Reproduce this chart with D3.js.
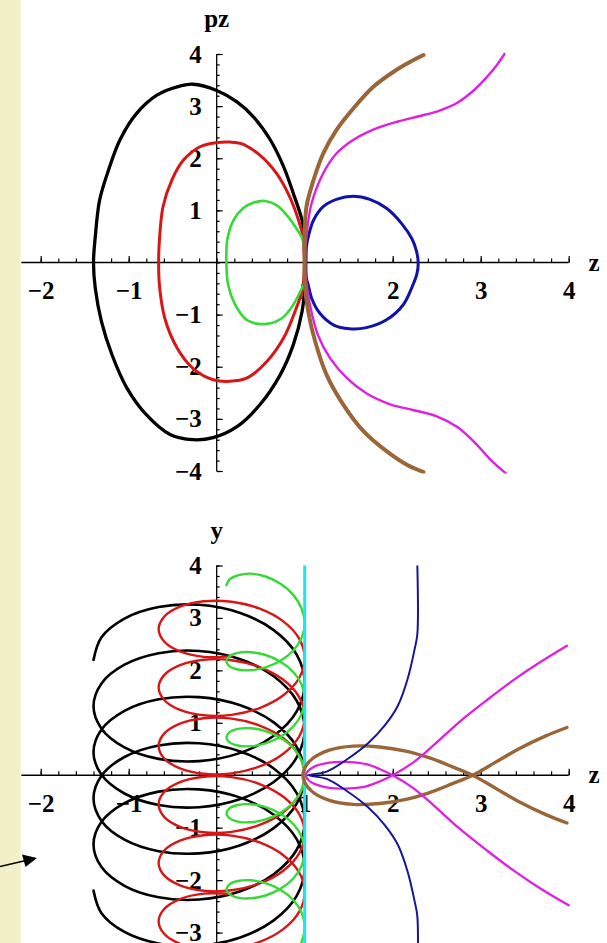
<!DOCTYPE html>
<html>
<head>
<meta charset="utf-8">
<script src="https://cdn.jsdelivr.net/npm/d3@7"></script>
<style>
  html, body { margin: 0; padding: 0; background: #ffffff; }
  svg { display: block; }
  .tick text { font-family: "Liberation Serif", "Times New Roman", serif; font-weight: bold; font-size: 25px; fill: #000; }
  .axis-title { font-family: "Liberation Serif", "Times New Roman", serif; font-weight: bold; font-size: 25px; fill: #000; }
</style>
</head>
<body>
<svg id="chart" width="607" height="943"></svg>
<script>
// ---------- tick values ----------
const zMajor = [-2, -1, 1, 2, 3, 4];
const pzMajor = [-4, -3, -2, -1, 1, 2, 3, 4];
const yMajor = [-3, -2, -1, 1, 2, 3, 4];
const zMinor = d3.range(-2, 4.001, 0.2).map(v => +v.toFixed(1));
const vMinor = d3.range(-4, 4.001, 0.2).map(v => +v.toFixed(1));

// ---------- phase plane (z, pz) ----------
const phaseBlack = [[-1.40,0],[-1.38,0.49],[-1.33,1.2],[-1.23,1.77],[-1.10,2.35],[-0.91,2.86],[-0.68,3.21],[-0.45,3.37],[-0.27,3.42],[0,3.30],[0.23,3.08],[0.42,2.79],[0.61,2.35],[0.76,1.84],[0.87,1.33],[0.97,0.81],[1.0,0.49],[1.0,-0.46],[0.97,-0.94],[0.87,-1.58],[0.72,-2.16],[0.49,-2.73],[0.23,-3.15],[-0.04,-3.36],[-0.27,-3.40],[-0.53,-3.30],[-0.80,-2.92],[-1.02,-2.41],[-1.19,-1.77],[-1.31,-1.13],[-1.38,-0.49]];
const phaseRed = [[-0.66,0],[-0.65,0.45],[-0.61,1.07],[-0.51,1.58],[-0.38,1.96],[-0.19,2.22],[0,2.30],[0.15,2.31],[0.28,2.28],[0.49,2.06],[0.68,1.71],[0.83,1.26],[0.93,0.81],[0.98,0.49],[0.98,-0.46],[0.89,-0.94],[0.76,-1.45],[0.57,-1.90],[0.34,-2.22],[0.15,-2.28],[-0.04,-2.25],[-0.27,-2.03],[-0.45,-1.64],[-0.59,-1.07],[-0.65,-0.45]];
const phaseGreen = [[0.11,0],[0.12,0.43],[0.19,0.81],[0.30,1.04],[0.42,1.15],[0.55,1.18],[0.68,1.10],[0.81,0.88],[0.93,0.59],[0.98,0.43],[1.0,-0.37],[0.97,-0.49],[0.87,-0.81],[0.74,-1.07],[0.55,-1.18],[0.34,-1.10],[0.21,-0.81],[0.13,-0.43]];
const phaseBlue = [[1.02,0.3],[1.04,0.49],[1.10,0.81],[1.21,1.07],[1.36,1.21],[1.55,1.27],[1.74,1.21],[1.93,1.04],[2.10,0.75],[2.22,0.45],[2.27,0.22],[2.29,0],[2.275,-0.22],[2.22,-0.47],[2.12,-0.81],[1.93,-1.10],[1.70,-1.25],[1.51,-1.27],[1.33,-1.20],[1.17,-0.97],[1.08,-0.69],[1.04,-0.43],[1.02,-0.3]];
const phaseMagenta = [[3.29,-4.05],[3.11,-3.78],[2.92,-3.43],[2.73,-3.15],[2.50,-2.95],[2.23,-2.83],[1.97,-2.72],[1.70,-2.51],[1.48,-2.22],[1.29,-1.84],[1.15,-1.39],[1.06,-0.81],[1.02,-0.4],[1.0,0],[1.02,0.5],[1.06,1.0],[1.10,1.26],[1.21,1.71],[1.36,2.09],[1.55,2.35],[1.78,2.55],[2.05,2.70],[2.31,2.81],[2.54,2.92],[2.73,3.06],[2.92,3.30],[3.07,3.56],[3.18,3.78],[3.27,4.0]];
const phaseBrown = [[2.35,-4.02],[2.16,-3.88],[1.93,-3.62],[1.67,-3.24],[1.44,-2.73],[1.25,-2.16],[1.12,-1.52],[1.04,-0.94],[1.0,-0.37],[1.0,0],[1.0,0.5],[1.02,1.07],[1.10,1.58],[1.21,2.09],[1.36,2.54],[1.55,2.95],[1.78,3.37],[2.01,3.66],[2.20,3.85],[2.35,3.98]];

// ---------- orbits (z, y) ----------
const orbitBlack = [[-1.4,-2.2],[-1.309,-2.631],[-1.048,-2.988],[-0.66,-3.208],[-0.2,-3.25],[0.26,-3.098],[0.648,-2.768],[0.909,-2.301],[1.0,-1.76],[0.909,-1.219],[0.648,-0.752],[0.26,-0.422],[-0.2,-0.27],[-0.66,-0.312],[-1.048,-0.532],[-1.309,-0.889],[-1.4,-1.32],[-1.309,-1.751],[-1.048,-2.108],[-0.66,-2.328],[-0.2,-2.37],[0.26,-2.218],[0.648,-1.888],[0.909,-1.421],[1.0,-0.88],[0.909,-0.339],[0.648,0.128],[0.26,0.458],[-0.2,0.61],[-0.66,0.568],[-1.048,0.348],[-1.309,-0.009],[-1.4,-0.44],[-1.309,-0.871],[-1.048,-1.228],[-0.66,-1.448],[-0.2,-1.49],[0.26,-1.338],[0.648,-1.008],[0.909,-0.541],[1.0,0],[0.909,0.541],[0.648,1.008],[0.26,1.338],[-0.2,1.49],[-0.66,1.448],[-1.048,1.228],[-1.309,0.871],[-1.4,0.44],[-1.309,0.009],[-1.048,-0.348],[-0.66,-0.568],[-0.2,-0.61],[0.26,-0.458],[0.648,-0.128],[0.909,0.339],[1.0,0.88],[0.909,1.421],[0.648,1.888],[0.26,2.218],[-0.2,2.37],[-0.66,2.328],[-1.048,2.108],[-1.309,1.751],[-1.4,1.32],[-1.309,0.889],[-1.048,0.532],[-0.66,0.312],[-0.2,0.27],[0.26,0.422],[0.648,0.752],[0.909,1.219],[1.0,1.76],[0.909,2.301],[0.648,2.768],[0.26,3.098],[-0.2,3.25],[-0.66,3.208],[-1.048,2.988],[-1.309,2.631],[-1.4,2.2]];
const orbitRed = [[0.17,-2.266],[-0.148,-2.258],[-0.417,-2.361],[-0.597,-2.551],[-0.66,-2.788],[-0.597,-3.024],[-0.417,-3.214],[-0.148,-3.317],[0.17,-3.309],[0.488,-3.178],[0.757,-2.935],[0.937,-2.606],[1.0,-2.23],[0.937,-1.854],[0.757,-1.525],[0.488,-1.282],[0.17,-1.151],[-0.148,-1.143],[-0.417,-1.246],[-0.597,-1.436],[-0.66,-1.673],[-0.597,-1.909],[-0.417,-2.099],[-0.148,-2.202],[0.17,-2.194],[0.488,-2.063],[0.757,-1.820],[0.937,-1.491],[1.0,-1.115],[0.937,-0.739],[0.757,-0.410],[0.488,-0.167],[0.17,-0.036],[-0.148,-0.028],[-0.417,-0.131],[-0.597,-0.321],[-0.66,-0.558],[-0.597,-0.794],[-0.417,-0.984],[-0.148,-1.087],[0.17,-1.079],[0.488,-0.948],[0.757,-0.705],[0.937,-0.376],[1.0,0],[0.937,0.376],[0.757,0.705],[0.488,0.948],[0.17,1.079],[-0.148,1.087],[-0.417,0.984],[-0.597,0.794],[-0.66,0.558],[-0.597,0.321],[-0.417,0.131],[-0.148,0.028],[0.17,0.036],[0.488,0.167],[0.757,0.410],[0.937,0.739],[1.0,1.115],[0.937,1.491],[0.757,1.820],[0.488,2.063],[0.17,2.194],[-0.148,2.202],[-0.417,2.099],[-0.597,1.909],[-0.66,1.673],[-0.597,1.436],[-0.417,1.246],[-0.148,1.143],[0.17,1.151],[0.488,1.282],[0.757,1.525],[0.937,1.854],[1.0,2.23],[0.937,2.606],[0.757,2.935],[0.488,3.178],[0.17,3.309],[-0.148,3.317],[-0.417,3.214],[-0.597,3.024],[-0.66,2.788],[-0.597,2.551],[-0.417,2.361],[-0.148,2.258],[0.17,2.266]];
const orbitGreen = [[0.11,-3.625],[0.144,-3.718],[0.240,-3.783],[0.385,-3.797],[0.555,-3.743],[0.725,-3.616],[0.870,-3.420],[0.966,-3.175],[1.0,-2.9],[0.966,-2.625],[0.870,-2.380],[0.725,-2.184],[0.555,-2.058],[0.385,-2.003],[0.240,-2.017],[0.144,-2.082],[0.11,-2.175],[0.144,-2.268],[0.240,-2.333],[0.385,-2.347],[0.555,-2.293],[0.725,-2.166],[0.870,-1.970],[0.966,-1.725],[1.0,-1.45],[0.966,-1.175],[0.870,-0.930],[0.725,-0.734],[0.555,-0.608],[0.385,-0.553],[0.240,-0.567],[0.144,-0.632],[0.11,-0.725],[0.144,-0.818],[0.240,-0.883],[0.385,-0.897],[0.555,-0.843],[0.725,-0.716],[0.870,-0.520],[0.966,-0.275],[1.0,0],[0.966,0.275],[0.870,0.520],[0.725,0.716],[0.555,0.843],[0.385,0.897],[0.240,0.883],[0.144,0.818],[0.11,0.725],[0.144,0.632],[0.240,0.567],[0.385,0.553],[0.555,0.608],[0.725,0.734],[0.870,0.930],[0.966,1.175],[1.0,1.45],[0.966,1.725],[0.870,1.970],[0.725,2.166],[0.555,2.293],[0.385,2.347],[0.240,2.333],[0.144,2.268],[0.11,2.175],[0.144,2.082],[0.240,2.017],[0.385,2.003],[0.555,2.058],[0.725,2.184],[0.870,2.380],[0.966,2.625],[1.0,2.9],[0.966,3.175],[0.870,3.440],[0.725,3.650],[0.555,3.790],[0.385,3.845],[0.240,3.810],[0.144,3.730],[0.11,3.625]];
const orbitBlue = [[2.28,4.0],[2.28,2.69],[2.25,2.41],[2.17,1.84],[2.06,1.33],[1.91,0.95],[1.72,0.61],[1.47,0.29],[1.25,0.07],[1.05,0],[1.25,-0.07],[1.47,-0.29],[1.72,-0.61],[1.91,-0.95],[2.06,-1.33],[2.17,-1.84],[2.25,-2.41],[2.28,-2.69],[2.28,-4.0]];
const orbitMagenta = [[4.0,-2.48],[3.66,-2.14],[3.36,-1.80],[3.06,-1.42],[2.76,-1.02],[2.45,-0.55],[2.23,-0.24],[2.00,0.0],[1.85,0.12],[1.70,0.21],[1.51,0.25],[1.28,0.24],[1.09,0.15],[1.02,0.04],[1.02,-0.04],[1.09,-0.15],[1.28,-0.24],[1.51,-0.25],[1.70,-0.21],[1.85,-0.12],[2.00,0.0],[2.23,0.24],[2.45,0.55],[2.76,1.02],[3.06,1.42],[3.36,1.80],[3.66,2.14],[3.98,2.47]];
const orbitBrown = [[3.98,-0.91],[3.74,-0.75],[3.43,-0.50],[3.17,-0.25],[2.91,0.0],[2.68,0.16],[2.42,0.33],[2.15,0.46],[1.85,0.54],[1.55,0.555],[1.28,0.48],[1.09,0.32],[1.0,0.14],[0.98,0.0],[1.0,-0.14],[1.09,-0.32],[1.28,-0.48],[1.55,-0.555],[1.85,-0.54],[2.15,-0.46],[2.42,-0.33],[2.68,-0.16],[2.91,0.0],[3.17,0.25],[3.43,0.50],[3.74,0.75],[3.98,0.91]];
const wallZ = [1.0];

// ---------- layout ----------
const svg = d3.select("#chart");
const W = 607, H = 943;
svg.append("rect").attr("width", W).attr("height", H).attr("fill", "#ffffff");
svg.append("rect").attr("x", 0).attr("y", 0).attr("width", 20.5).attr("height", H).attr("fill", "#f3f0c7");

const X = d3.scaleLinear().domain([-2, 4]).range([40.7, 568.7]);
const Ytop = d3.scaleLinear().domain([-4, 4]).range([471, 54]);
const Ybot = d3.scaleLinear().domain([-4, 4]).range([985, 565.5]);

const fmt = d => d < 0 ? "\u2212" + (-d) : String(d);

function drawAxes(Y, vTicks, vLabel, labelPos, yTop, yBottom) {
  const g = svg.append("g");
  // horizontal axis: ticks point upward, labels below
  g.append("g").attr("transform", `translate(0,${Y(0)})`)
    .call(d3.axisBottom(X).tickValues(zMinor).tickSize(-4).tickFormat(""))
    .call(s => s.select(".domain").remove());
  g.append("g").attr("transform", `translate(0,${Y(0)})`)
    .call(d3.axisBottom(X).tickValues(zMajor).tickSize(-6.5).tickPadding(19).tickFormat(fmt))
    .call(s => s.select(".domain").remove());
  g.append("line").attr("x1", X(-2.22)).attr("x2", X(4)).attr("y1", Y(0)).attr("y2", Y(0))
    .attr("stroke", "#000").attr("stroke-width", 1.3);
  // vertical axis: ticks point right, labels left
  const vm = vMinor.filter(v => v <= yTop && v >= yBottom);
  g.append("g").attr("transform", `translate(${X(0)},0)`)
    .call(d3.axisLeft(Y).tickValues(vm).tickSize(-3).tickFormat(""))
    .call(s => s.select(".domain").remove());
  g.append("g").attr("transform", `translate(${X(0)},0)`)
    .call(d3.axisLeft(Y).tickValues(vTicks).tickSize(-6).tickPadding(15).tickFormat(fmt))
    .call(s => s.select(".domain").remove());
  g.append("line").attr("x1", X(0)).attr("x2", X(0)).attr("y1", Y(yTop)).attr("y2", Y(yBottom))
    .attr("stroke", "#000").attr("stroke-width", 1.3);
  g.selectAll(".tick line").attr("stroke", "#000").attr("stroke-width", 1.2);
  // axis titles
  g.append("text").attr("class", "axis-title").attr("x", X(0)).attr("y", labelPos)
    .attr("text-anchor", "middle").text(vLabel);
  g.append("text").attr("class", "axis-title").attr("x", 594).attr("y", Y(0) + 8)
    .attr("text-anchor", "middle").text("z");
}

drawAxes(Ytop, pzMajor, "pz", 27, 4, -4);
drawAxes(Ybot, yMajor, "y", 539, 4, -3.4);

// ---------- curves ----------
function path(Y, closed) {
  return d3.line().x(d => X(d[0])).y(d => Y(d[1]))
    .curve(closed ? d3.curveCatmullRomClosed.alpha(0.5) : d3.curveCatmullRom.alpha(0.5));
}
function draw(data, Y, color, width, closed, clip) {
  svg.append("path").datum(data).attr("d", path(Y, closed)(data))
    .attr("fill", "none").attr("stroke", color).attr("stroke-width", width)
    .attr("stroke-linejoin", "round").attr("stroke-linecap", "round")
    .attr("clip-path", clip ? `url(#${clip})` : null);
}

const defs = svg.append("defs");
defs.append("clipPath").attr("id", "clipTop").append("rect")
  .attr("x", 0).attr("y", Ytop(4.05)).attr("width", W).attr("height", Ytop(-4.05) - Ytop(4.05));
defs.append("clipPath").attr("id", "clipBot").append("rect")
  .attr("x", 0).attr("y", Ybot(4)).attr("width", W).attr("height", H - Ybot(4));

// phase plane
draw(phaseBlack, Ytop, "#000000", 3.3, true, "clipTop");
draw(phaseRed, Ytop, "#d81616", 3, true, "clipTop");
draw(phaseGreen, Ytop, "#36d936", 2.6, true, "clipTop");
draw(phaseBlue, Ytop, "#1212a8", 3, true, "clipTop");
draw(phaseMagenta, Ytop, "#e020e0", 2.4, false, "clipTop");
draw(phaseBrown, Ytop, "#9a6638", 4, false, "clipTop");

// orbits
draw(orbitBlack, Ybot, "#000000", 2.6, false, "clipBot");
draw(orbitRed, Ybot, "#d81616", 2.4, false, "clipBot");
draw(orbitGreen, Ybot, "#36d936", 2.4, false, "clipBot");
svg.selectAll(null).data(wallZ).enter().append("line")
  .attr("x1", d => X(d)).attr("x2", d => X(d)).attr("y1", Ybot(4)).attr("y2", H)
  .attr("stroke", "#22e4ee").attr("stroke-width", 3);
draw(orbitBrown, Ybot, "#9a6638", 3.4, false, "clipBot");
draw(orbitMagenta, Ybot, "#e020e0", 2.3, false, "clipBot");
draw(orbitBlue, Ybot, "#16169a", 2, false, "clipBot");

// pointer arrow at the left margin
svg.append("line").attr("x1", 0).attr("y1", 866.5).attr("x2", 26).attr("y2", 860.5)
  .attr("stroke", "#000").attr("stroke-width", 1.5);
svg.append("path").attr("d", "M37,858 L22,854.5 L25.5,867 Z").attr("fill", "#000");
</script>
</body>
</html>
